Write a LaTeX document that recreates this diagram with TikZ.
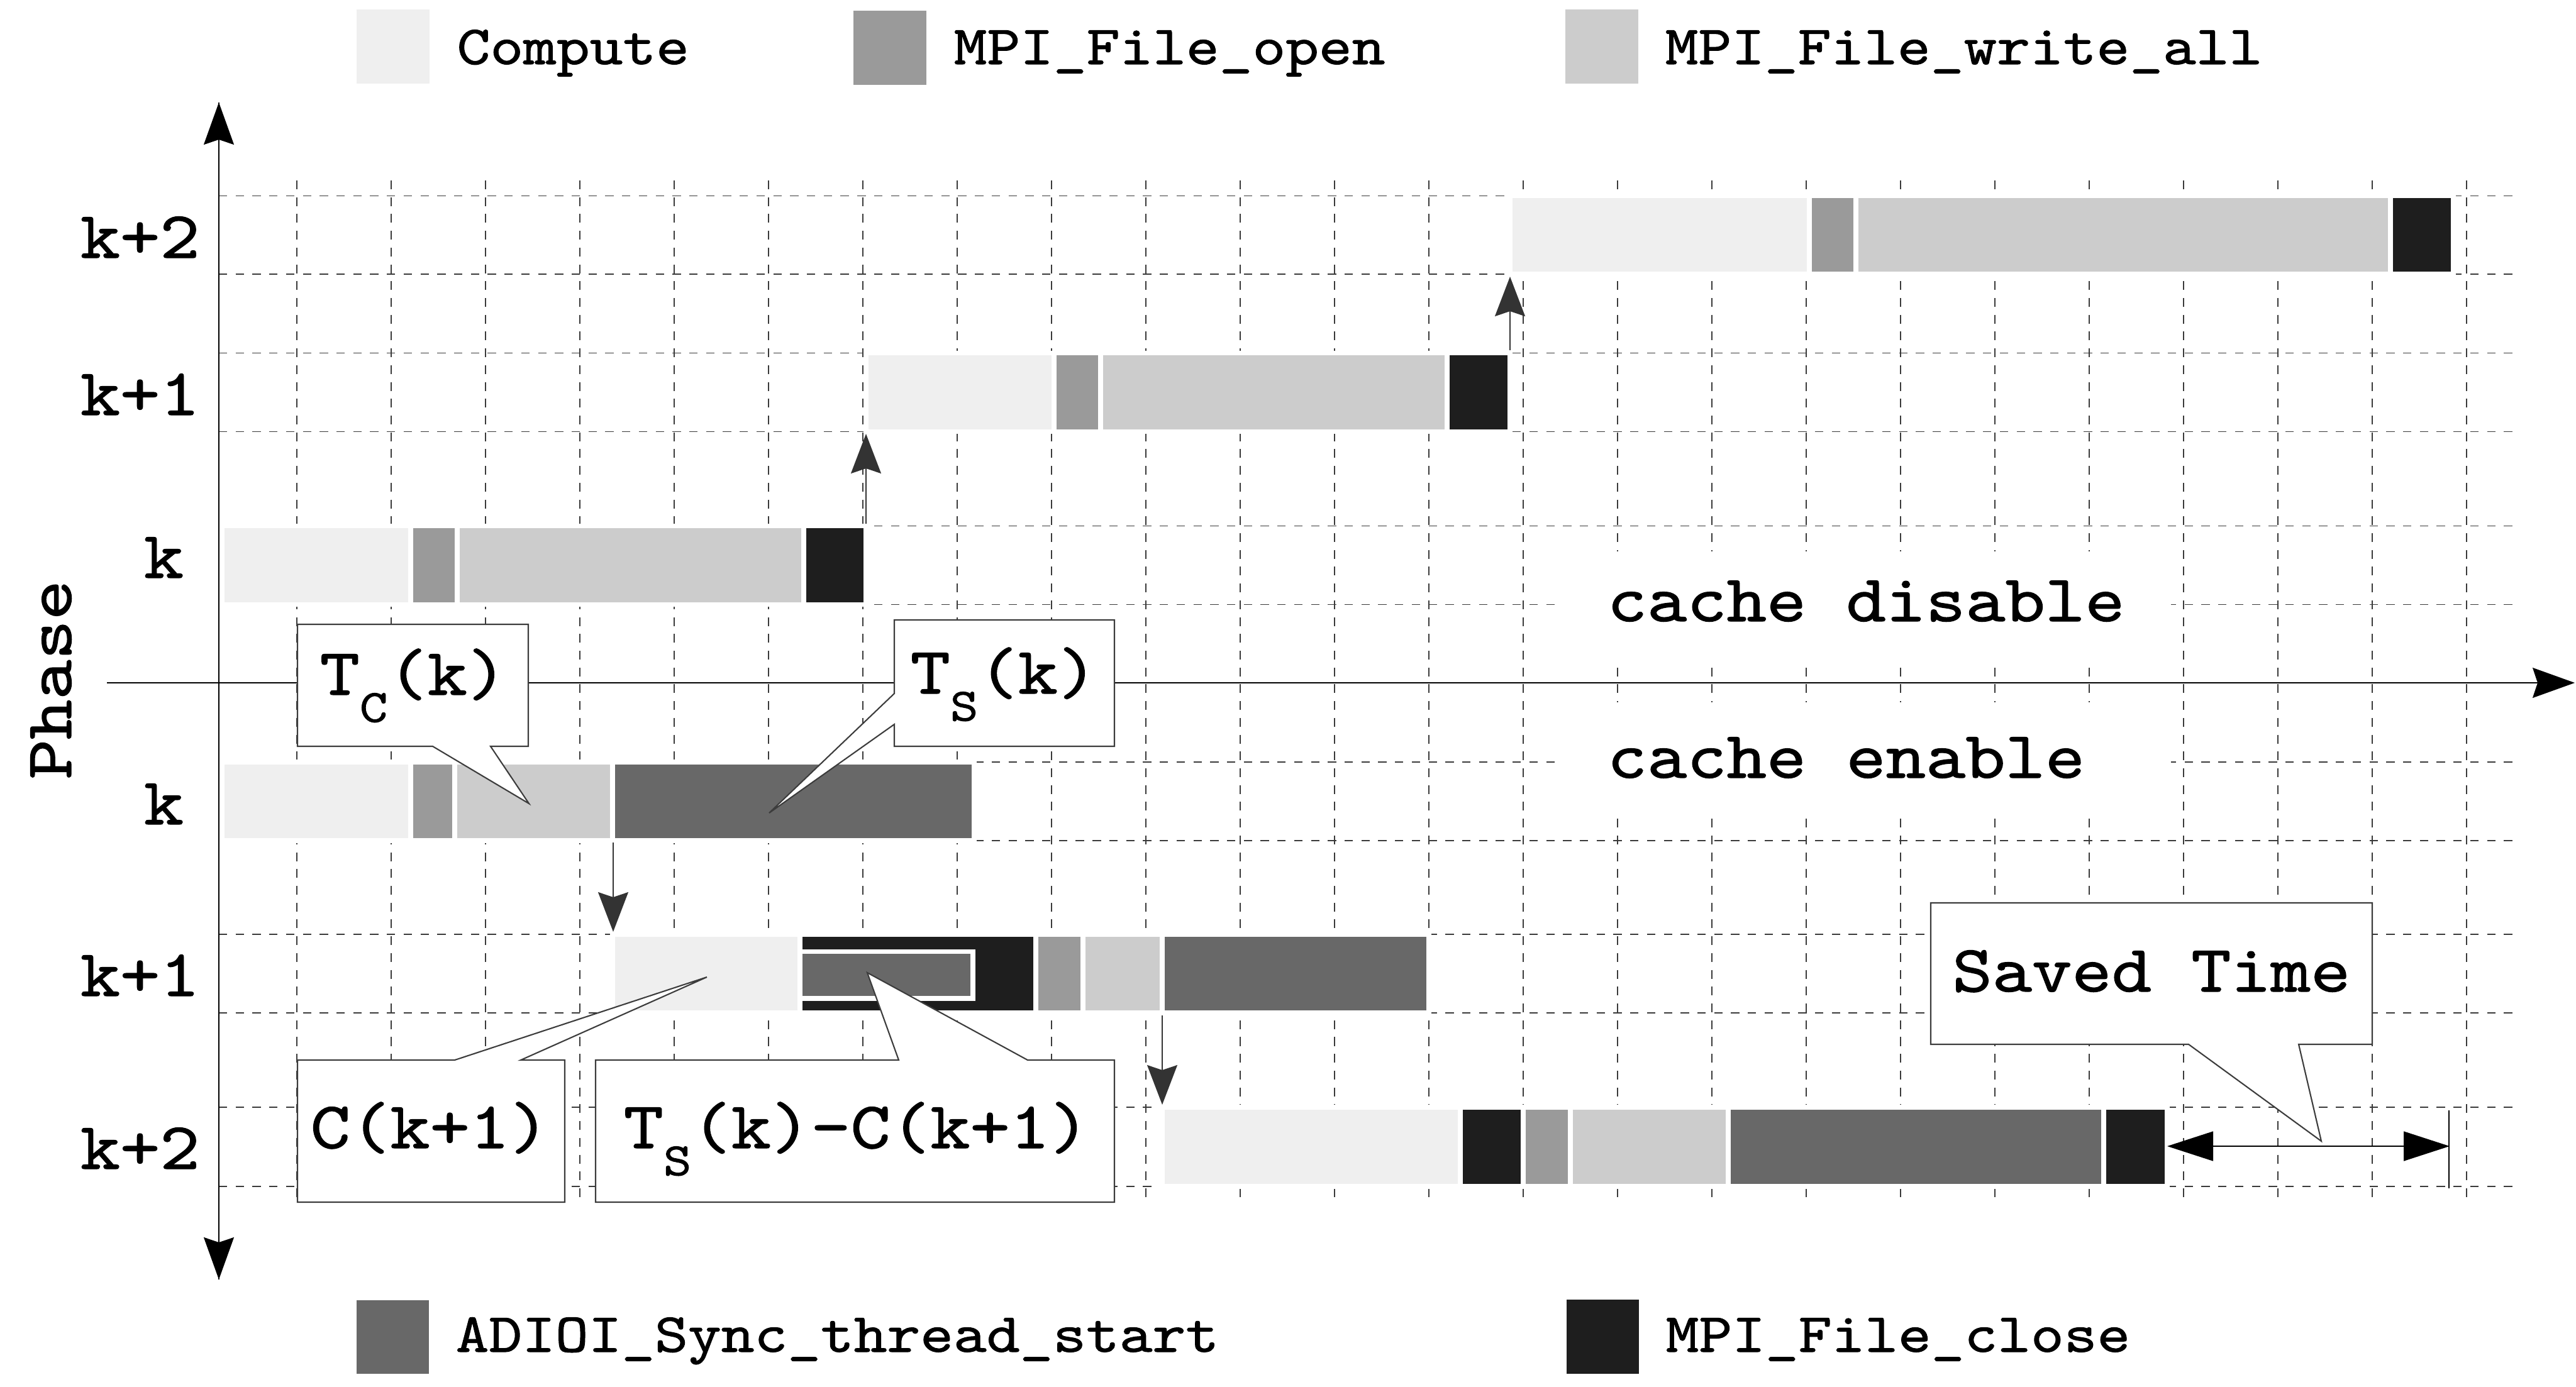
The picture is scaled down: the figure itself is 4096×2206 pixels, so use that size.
\documentclass[tikz,border=0pt]{standalone}
\usepackage{fontspec}
\setmainfont{Liberation Mono}
\newfontfamily\cour{lmmono10-regular.otf}[FakeStretch=1.143,FakeBold=1.2]
\usetikzlibrary{arrows.meta}
\definecolor{cComp}{HTML}{EFEFEF}
\definecolor{cOpen}{HTML}{9A9A9A}
\definecolor{cWrite}{HTML}{CCCCCC}
\definecolor{cSync}{HTML}{686868}
\definecolor{cClose}{HTML}{1E1E1E}
\definecolor{cArrow}{HTML}{333333}
\definecolor{cBorder}{HTML}{3C3C3C}
\definecolor{cGrid}{HTML}{3A3A3A}
\newcommand\lowsub[1]{\raisebox{-0.41em}{\fontsize{21}{21}\selectfont #1}}
\begin{document}
\begin{tikzpicture}[x=0.01cm,y=-0.01cm,
  seg/.style={draw=white,line width=2.1pt},
  comp/.style={seg,fill=cComp},
  openc/.style={seg,fill=cOpen},
  writec/.style={seg,fill=cWrite},
  syncc/.style={seg,fill=cSync},
  closec/.style={seg,fill=cClose},
  gridv/.style={draw=cGrid,line width=0.35pt,dash pattern=on 0.14cm off 0.127cm},
  gridh/.style={draw=cGrid,line width=0.35pt,dash pattern=on 0.133cm off 0.134cm},
  axis/.style={draw=black,line width=0.45pt},
  axhead/.style={-{Stealth[length=0.67cm,width=0.48cm,inset=0.08cm]}},
  phasearrow/.style={draw=cArrow,line width=0.45pt,-{Stealth[length=0.63cm,width=0.48cm,inset=0.08cm]}},
  callout/.style={draw=cBorder,fill=white,line width=0.6pt,line join=miter},
  lbl/.style={font=\cour\fontsize{30}{36}\selectfont,inner sep=0pt},
  leg/.style={font=\cour\fontsize{25}{30}\selectfont,inner sep=0pt}]

\fill[white] (0,0) rectangle (4096,2206);
\useasboundingbox (0,0) rectangle (4096,2206);

% ---------- grid ----------
\foreach \i in {0,...,23} \draw[gridv] ({472+150*\i},287) -- ({472+150*\i},1912);
\foreach \yy in {311.6,436,561.7,686.7,836.5,961.5,1212,1337,1486,1611,1761,1887}
  \draw[gridh] (348,\yy) -- (3997,\yy);

% white areas behind the cache labels
\fill[white] (2484,877) rectangle (3452,1055);
\fill[white] (2484,1117) rectangle (3452,1295);

% ---------- axes ----------
\coordinate (vtop) at (348,163);
\coordinate (vbot) at (348,2035);
\coordinate (hleft) at (170,1086);
\coordinate (hright) at (4094,1086);
\draw[axis,axhead] (vbot) -- (vtop);
\draw[axis,axhead] (vtop) -- (vbot);
\draw[axis,axhead] (hleft) -- (hright);

% ---------- bars: cache disable ----------
% phase k+2
\draw[comp]   (2401,311.6) rectangle (2877,436);
\draw[openc]  (2877,311.6) rectangle (2951,436);
\draw[writec] (2951,311.6) rectangle (3801,436);
\draw[closec] (3801,311.6) rectangle (3901,436);
% phase k+1
\draw[comp]   (1377,561.7) rectangle (1676,686.7);
\draw[openc]  (1676,561.7) rectangle (1750,686.7);
\draw[writec] (1750,561.7) rectangle (2301,686.7);
\draw[closec] (2301,561.7) rectangle (2401,686.7);
% phase k
\draw[comp]   (353,836.5) rectangle (653,961.5);
\draw[openc]  (653,836.5) rectangle (727,961.5);
\draw[writec] (727,836.5) rectangle (1278,961.5);
\draw[closec] (1278,836.5) rectangle (1377,961.5);

% ---------- bars: cache enable ----------
% phase k
\draw[comp]   (353,1212) rectangle (653,1337);
\draw[openc]  (653,1212) rectangle (723,1337);
\draw[writec] (723,1212) rectangle (974,1337);
\draw[syncc]  (974,1212) rectangle (1549,1337);
% phase k+1
\draw[comp]   (974,1486) rectangle (1272,1611);
\draw[closec] (1272,1486) rectangle (1647,1611);
\draw[syncc]  (1272,1513.5) rectangle (1547,1588);
\draw[openc]  (1647,1486) rectangle (1722,1611);
\draw[writec] (1722,1486) rectangle (1848,1611);
\draw[syncc]  (1848,1486) rectangle (2272,1611);
% phase k+2
\draw[comp]   (1848,1761) rectangle (2322,1887);
\draw[closec] (2322,1761) rectangle (2422,1887);
\draw[openc]  (2422,1761) rectangle (2497,1887);
\draw[writec] (2497,1761) rectangle (2748,1887);
\draw[syncc]  (2748,1761) rectangle (3345,1887);
\draw[closec] (3345,1761) rectangle (3446,1887);

% ---------- phase transition arrows ----------
\coordinate (da1s) at (1377,833);  \coordinate (da1e) at (1377,690);
\coordinate (da2s) at (2401,557);  \coordinate (da2e) at (2401,440);
\coordinate (ea1s) at (975,1340);  \coordinate (ea1e) at (975,1482);
\coordinate (ea2s) at (1848,1615); \coordinate (ea2e) at (1848,1757);
\draw[phasearrow] (da1s) -- (da1e);
\draw[phasearrow] (da2s) -- (da2e);
\draw[phasearrow] (ea1s) -- (ea1e);
\draw[phasearrow] (ea2s) -- (ea2e);

% ---------- saved time arrow ----------
\coordinate (stl) at (3446,1823);
\coordinate (str) at (3895,1823);
\coordinate (stt) at (3894,1766);
\coordinate (stb) at (3894,1890);
\draw[line width=0.45pt,{Triangle[length=0.73cm,width=0.47cm]}-{Triangle[length=0.73cm,width=0.47cm]}] (stl) -- (str);
\draw[line width=0.45pt] (stt) -- (stb);

% ---------- callouts ----------
\draw[callout] (473,993) -- (840,993) -- (840,1187) -- (780,1187) -- (841,1278) -- (688,1187) -- (473,1187) -- cycle;
\draw[callout] (1422,986) -- (1772,986) -- (1772,1187) -- (1422,1187) -- (1422,1152) -- (1223,1293) -- (1422,1103) -- cycle;
\draw[callout] (473,1686) -- (723,1686) -- (1124,1554) -- (828,1686) -- (898,1686) -- (898,1912) -- (473,1912) -- cycle;
\draw[callout] (947,1686) -- (1429,1686) -- (1379,1547) -- (1634,1686) -- (1772,1686) -- (1772,1912) -- (947,1912) -- cycle;
\draw[callout] (3070,1436) -- (3772,1436) -- (3772,1661) -- (3655,1661) -- (3691,1815) -- (3480,1661) -- (3070,1661) -- cycle;

\node[lbl,anchor=base west] (tck) at (508,1105) {T\lowsub{C}(k)};
\node[lbl,anchor=base west] (tsk) at (1447,1103) {T\lowsub{S}(k)};
\node[lbl,anchor=base west] (ck1) at (493,1826) {C(k+1)};
\node[lbl,anchor=base west] (tsc) at (991,1826) {T\lowsub{S}(k)-C(k+1)};
\node[lbl,anchor=base] (saved) at (3421,1577) {Saved Time};

% ---------- labels ----------
\node[lbl,anchor=base west] (d2) at (127,410) {k+2};
\node[lbl,anchor=base west] (d1) at (127,660) {k+1};
\node[lbl,anchor=base west] (d0) at (228,919) {k};
\node[lbl,anchor=base west] (e0) at (228,1311) {k};
\node[lbl,anchor=base west] (e1) at (127,1584) {k+1};
\node[lbl,anchor=base west] (e2) at (127,1859) {k+2};
\node[lbl,rotate=90,anchor=base] (phase) at (113,1081) {Phase};
\node[lbl,anchor=base west] (cdis) at (2555,988) {cache disable};
\node[lbl,anchor=base west] (cen) at (2555,1237) {cache enable};

% ---------- legend ----------
\fill[cComp]  (567,15) rectangle (683,133);
\fill[cOpen]  (1357,17) rectangle (1473,135);
\fill[cWrite] (2489,15) rectangle (2605,133);
\fill[cSync]  (567,2068) rectangle (682,2185);
\fill[cClose] (2491,2067) rectangle (2606,2185);
\node[leg,anchor=base west] (lcomp) at (726,102) {Compute};
\node[leg,anchor=base west] (lopen) at (1516,102) {MPI\_File\_open};
\node[leg,anchor=base west] (lwrite) at (2647,102) {MPI\_File\_write\_all};
\node[leg,anchor=base west] (lsync) at (724,2150) {ADIOI\_Sync\_thread\_start};
\node[leg,anchor=base west] (lclose) at (2648,2150) {MPI\_File\_close};
\end{tikzpicture}
\end{document}
